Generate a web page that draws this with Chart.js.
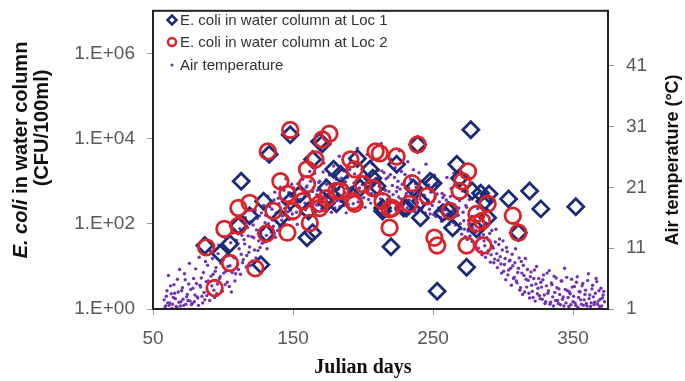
<!DOCTYPE html>
<html>
<head>
<meta charset="utf-8">
<script src="https://cdn.jsdelivr.net/npm/chart.js@4"></script>
<style>
  html, body { margin: 0; padding: 0; background: #fff; }
  #wrap { width: 685px; height: 381px; }
</style>
</head>
<body>
<div id="wrap"><canvas id="myChart" width="685" height="381"></canvas></div>
<script>
// E. coli at Loc 1: [Julian day, CFU/100ml]
const loc1 = [
  [87, 31], [98, 20], [105, 34], [111, 90], [113, 1000], [119, 155], [127, 11],
  [129, 340], [131, 59], [133, 4300], [141, 138], [148, 12300], [148, 340],
  [155, 500], [160, 47], [161, 200], [164, 62], [164, 3240], [169, 8500],
  [171, 7600], [174, 310], [174, 690], [179, 1900], [181, 295], [184, 1450],
  [186, 590], [196, 3400], [198, 690], [205, 1900], [207, 1170], [210, 760],
  [214, 235], [214, 200], [220, 29], [224, 2500], [229, 235], [231, 235],
  [236, 690], [239, 7300], [241, 340], [241, 138], [248, 1000], [250, 900],
  [253, 2.6], [257, 182], [261, 200], [264, 81], [267, 2500], [269, 1170],
  [274, 9.5], [277, 16200], [278, 590], [281, 76], [284, 520], [287, 340],
  [289, 138], [290, 500], [304, 380], [311, 62], [319, 590], [327, 224], [352, 250]
];

// E. coli at Loc 2: [Julian day, CFU/100ml]
const loc2 = [
  [88, 28], [94, 3.1], [101, 76], [105, 12], [111, 235], [111, 90], [119, 310],
  [123, 9], [131, 59], [132, 5000], [136, 200], [141, 1000], [146, 62],
  [146, 500], [148, 16000], [150, 200], [157, 340], [160, 1900], [160, 850],
  [162, 105], [166, 3240], [169, 295], [169, 235], [171, 9500], [174, 400],
  [176, 13000], [181, 590], [184, 590], [191, 3240], [193, 340], [194, 295],
  [194, 1900], [200, 850], [207, 690], [209, 5000], [212, 4500], [214, 340],
  [219, 81], [219, 224], [221, 235], [224, 3800], [233, 295], [235, 900],
  [239, 7300], [246, 450], [251, 47], [253, 31], [262, 200], [269, 590],
  [271, 1000], [274, 31], [275, 1700], [281, 100], [281, 170], [285, 117],
  [286, 31], [289, 295], [307, 155], [311, 62]
];

// Air temperature (deg C), two readings per day starting at day 58
const tempStartDay = 58;
const airTempA = [
  2.5, 1.5, 4, 6.5, 2, 3.5, 1.8, 5, 2.7, 1.3,
  3.8, 7.5, 2.2, 4.5, 1.6, 5.8, 3, 2.4, 8.5, 4.2,
  1.9, 6, 3.3, 5.2, 2.8, 9.5, 4.6, 3.1, 7, 2.5,
  5.5, 8.2, 3.6, 10.5, 4.8, 6.7, 2.9, 7.8, 5.1, 11.5,
  6.3, 4, 9, 12.8, 7.2, 5.4, 10.2, 8.1, 3.8, 13.5,
  9.4, 6.8, 11.6, 7.5, 14.2, 10, 8.6, 12.4, 16, 9.8,
  13, 11.2, 15.4, 8.9, 12.7, 17.2, 14, 10.6, 16.3, 13.4,
  11.8, 18, 15.2, 13.1, 19.5, 16.1, 12.5, 17.4, 14.6, 20.2,
  16.8, 13.9, 18.3, 21, 15.6, 19, 17.5, 22.4, 16.2, 20.1,
  17.2, 21.5, 15.8, 19.6, 18.1, 14.9, 20.8, 18.9, 16.7, 22.3,
  19.4, 17.3, 21.2, 16.1, 23.6, 18.9, 20.3, 17.1, 24.2, 19.8,
  18.1, 22.0, 20.4, 18.6, 25.0, 17.2, 21.5, 19.3, 23.0, 18.2,
  20.9, 24.5, 17.6, 22.3, 19.8, 26.1, 18.7, 21.2, 23.7, 20.1,
  16.8, 22.6, 19.5, 25.3, 21.0, 18.3, 23.2, 20.6, 27.4, 19.2,
  22.1, 17.9, 24.0, 20.4, 21.7, 26.4, 19.0, 22.8, 20.0, 24.8,
  19.7, 22.4, 17.4, 23.8, 21.1, 28.2, 19.9, 23.4, 20.5, 16.7,
  22.7, 19.4, 25.6, 21.3, 18.6, 24.2, 20.3, 22.0, 27.0, 19.1,
  21.5, 18.1, 23.1, 20.0, 25.2, 18.9, 22.3, 19.8, 23.9, 17.0,
  21.0, 18.5, 23.4, 20.6, 17.5, 22.1, 19.6, 24.8, 18.3, 21.4,
  16.6, 20.4, 18.7, 23.0, 16.2, 19.9, 17.6, 21.7, 15.4, 19.3,
  19.7, 17.3, 22.6, 18.5, 15.9, 20.8, 17.1, 23.3, 14.8, 19.2,
  16.4, 18.8, 14.2, 20.4, 15.5, 12.9, 17.7, 13.8, 19, 15,
  12.1, 16.2, 13.5, 10.8, 17.5, 12.6, 14.6, 9.9, 13.2, 11.4,
  15.1, 10.2, 12.3, 8.7, 13.9, 11, 9.2, 14.1, 7.8, 11.6,
  9.6, 6.9, 12.2, 8.3, 5.8, 10.4, 7.4, 9, 4.9, 8.1,
  6.2, 10.9, 5.3, 7.7, 4.1, 8.8, 3.4, 6.5, 9.3, 4.6,
  5.7, 2.8, 7.1, 3.9, 6, 2.3, 8, 4.4, 3.2, 5.4,
  2.6, 6.6, 1.9, 4.8, 3.6, 7.3, 2.1, 5, 1.5, 3.7,
  6.1, 2.4, 4.3, 1.7, 5.6, 3, 7.7, 2, 4, 1.4,
  3.5, 5.9, 2.2, 4.7, 1.6, 6.3, 2.9, 3.8, 1.8, 5.2,
  2.5, 4.1, 1.5, 6.8, 3.3, 2, 4.9, 1.7, 3.6, 5.5,
  2.3, 1.4, 4.4, 2.8, 3.9
];
const airTempB = [
  1.2, 3.1, 2.0, 1.6, 4.8, 1.1, 2.9, 3.6, 1.4, 5.9,
  2.1, 1.5, 4.0, 2.6, 6.8, 1.8, 3.4, 5.1, 2.3, 1.7,
  4.4, 2.2, 7.6, 3.0, 1.6, 4.9, 6.1, 2.0, 3.7, 8.8,
  3.2, 5.6, 2.4, 6.4, 9.3, 4.1, 7.2, 3.5, 10.1, 6.0,
  8.5, 3.9, 6.9, 5.0, 10.8, 8.0, 4.7, 11.9, 7.0, 9.6,
  5.6, 12.3, 8.4, 10.9, 6.7, 13.1, 9.1, 11.7, 7.9, 14.4,
  10.3, 8.1, 12.9, 14.8, 10.7, 9.4, 15.9, 12.2, 11.1, 16.8,
  14.1, 12.0, 16.4, 10.9, 15.0, 17.8, 13.6, 15.6, 18.9, 12.8,
  15.3, 19.2, 14.4, 17.1, 16.3, 20.5, 14.9, 18.2, 17.0, 15.7,
  19.5, 16.6, 20.9, 18.0, 16.9, 21.6, 17.8, 19.0, 22.9, 17.5,
  18.4, 21.0, 16.3, 19.7, 22.0, 17.9, 20.9, 23.3, 18.1, 20.5,
  21.8, 19.0, 17.5, 23.5, 20.1, 22.2, 18.5, 19.9, 21.4, 16.9,
  19.3, 21.6, 23.0, 18.8, 20.7, 17.8, 22.5, 19.6, 18.0, 21.9,
  20.8, 18.2, 23.9, 19.4, 17.3, 21.7, 19.9, 24.6, 18.6, 20.9,
  18.8, 21.4, 19.3, 17.7, 23.0, 20.2, 22.1, 18.4, 25.5, 19.6,
  22.3, 20.0, 18.0, 21.2, 19.1, 23.7, 17.8, 20.6, 22.4, 19.0,
  20.3, 23.1, 18.5, 19.8, 22.6, 17.3, 21.0, 19.4, 20.7, 23.6,
  18.7, 21.9, 19.6, 17.6, 20.9, 22.8, 18.1, 20.2, 19.2, 21.6,
  19.0, 17.2, 20.4, 22.0, 18.4, 19.7, 16.8, 20.9, 18.9, 17.4,
  20.2, 18.0, 16.5, 19.4, 21.3, 17.1, 18.6, 16.0, 20.0, 17.3,
  15.8, 18.9, 16.6, 14.9, 19.5, 17.0, 15.2, 18.1, 16.3, 13.8,
  17.6, 15.0, 13.3, 16.9, 14.1, 18.0, 12.4, 15.6, 13.0, 16.2,
  14.3, 11.5, 13.9, 15.3, 11.0, 12.9, 10.4, 14.0, 12.2, 9.5,
  12.7, 10.6, 13.4, 9.9, 11.3, 8.6, 12.0, 10.1, 9.0, 12.5,
  8.4, 10.7, 7.2, 9.3, 11.1, 6.6, 8.9, 7.7, 10.0, 6.0,
  8.6, 5.6, 7.0, 9.4, 4.5, 6.9, 8.2, 3.8, 5.9, 7.5,
  3.6, 6.3, 4.9, 2.9, 7.4, 5.1, 3.5, 6.0, 2.7, 4.6,
  5.8, 3.3, 2.2, 6.9, 4.0, 1.8, 5.3, 3.0, 6.4, 2.4,
  4.5, 1.9, 3.4, 5.6, 2.6, 1.5, 4.2, 6.2, 2.9, 3.8,
  1.7, 4.6, 3.1, 2.0, 5.4, 1.3, 3.9, 2.5, 4.8, 1.6,
  3.4, 1.9, 5.7, 2.7, 1.4, 4.3, 3.0, 2.1, 6.0, 1.8,
  4.0, 2.6, 1.5, 3.3, 2.2
];

const xTicks = [50, 150, 250, 350];
const ecoliTicks = [1, 1e2, 1e4, 1e6];
const tempTicks = [1, 11, 21, 31, 41];

const legendLabels = [
  "E. coli in water column at Loc 1",
  "E. coli in water column at Loc 2",
  "Air temperature"
];

const navy = "#1c2b78";
const red = "#d8242a";
const purple = "#7232b4";
const tickFont = { family: "'Liberation Sans', Arial, sans-serif", size: 19 };
const tickColor = "#595959";

// air temperature points from both daily readings
const tempPoints = [];
airTempA.forEach((t, i) => tempPoints.push({ x: tempStartDay + i, y: t }));
airTempB.forEach((t, i) => tempPoints.push({ x: tempStartDay + i + 0.5, y: t }));

const noPad = (s) => { s.paddingTop = 0; s.paddingBottom = 0; s.paddingLeft = 0; s.paddingRight = 0; };

const overlay = {
  id: "overlay",
  afterDraw(chart) {
    const c = chart.ctx;
    const a = chart.chartArea;
    c.save();
    // frame
    c.strokeStyle = "#222";
    c.lineWidth = 2;
    c.strokeRect(a.left, a.top, a.right - a.left, a.bottom - a.top);

    // legend
    c.font = "15px 'Liberation Sans', Arial, sans-serif";
    c.fillStyle = "#333";
    c.textBaseline = "middle";
    const ly = [20, 42, 65];
    legendLabels.forEach((t, i) => {
      const mx = a.left + 19, my = ly[i];
      c.lineWidth = 2.5;
      if (i === 0) {
        c.strokeStyle = navy;
        c.beginPath();
        c.moveTo(mx, my - 4.5); c.lineTo(mx + 4.5, my); c.lineTo(mx, my + 4.5); c.lineTo(mx - 4.5, my);
        c.closePath(); c.stroke();
      } else if (i === 1) {
        c.strokeStyle = red;
        c.beginPath(); c.arc(mx, my, 4, 0, Math.PI * 2); c.stroke();
      } else {
        c.fillStyle = purple;
        c.beginPath(); c.arc(mx, my, 1.6, 0, Math.PI * 2); c.fill();
        c.fillStyle = "#333";
      }
      c.fillText(t, mx + 8, my + 1);
    });

    // x title
    c.fillStyle = "#111";
    c.textAlign = "center";
    c.font = "bold 20px 'Liberation Serif', 'Times New Roman', serif";
    c.fillText("Julian days", 363, 368);

    // left title (two lines, rotated)
    c.save();
    c.translate(21, 150);
    c.rotate(-Math.PI / 2);
    const fi = "italic bold 20px 'Liberation Sans', Arial, sans-serif";
    const fb = "bold 20px 'Liberation Sans', Arial, sans-serif";
    c.font = fi; const w1 = c.measureText("E. coli").width;
    c.font = fb; const w2 = c.measureText(" in water column").width;
    c.textAlign = "left";
    c.font = fi; c.fillText("E. coli", -(w1 + w2) / 2, 0);
    c.font = fb; c.fillText(" in water column", -(w1 + w2) / 2 + w1, 0);
    c.restore();
    c.save();
    c.translate(42, 128);
    c.rotate(-Math.PI / 2);
    c.font = "bold 20px 'Liberation Sans', Arial, sans-serif";
    c.fillText("(CFU/100ml)", 0, 0);
    c.restore();

    // right title
    c.save();
    c.translate(673, 160);
    c.rotate(-Math.PI / 2);
    c.font = "bold 18px 'Liberation Sans', Arial, sans-serif";
    c.fillText("Air temperature (\u00B0C)", 0, 0);
    c.restore();

    c.restore();
  }
};

const ctx1 = document.getElementById("myChart").getContext("2d");

const myChart = new Chart(ctx1, {
  type: "scatter",
  data: {
    datasets: [
      {
        label: legendLabels[0],
        data: loc1.map(p => ({ x: p[0], y: p[1] })),
        yAxisID: "y",
        pointStyle: "rectRot",
        pointRadius: 8,
        borderColor: navy,
        backgroundColor: "rgba(0,0,0,0)",
        borderWidth: 2.8,
        order: 2,
      },
      {
        label: legendLabels[1],
        data: loc2.map(p => ({ x: p[0], y: p[1] })),
        yAxisID: "y",
        pointStyle: "circle",
        pointRadius: 7.8,
        borderColor: red,
        backgroundColor: "rgba(0,0,0,0)",
        borderWidth: 2.8,
        order: 1,
      },
      {
        label: legendLabels[2],
        data: tempPoints,
        yAxisID: "y2",
        pointStyle: "circle",
        pointRadius: 1.7,
        borderWidth: 0,
        backgroundColor: purple,
        order: 3,
      },
    ],
  },
  options: {
    responsive: false,
    animation: false,
    layout: { padding: { top: 10, left: 0, right: 0, bottom: 0 } },
    plugins: {
      legend: { display: false },
      tooltip: { enabled: false },
    },
    scales: {
      x: {
        type: "linear",
        min: 50,
        max: 375,
        afterBuildTicks: (s) => { s.ticks = xTicks.map(v => ({ value: v })); },
        afterFit: (s) => { s.height = 72; noPad(s); },
        ticks: { font: tickFont, color: tickColor, padding: 12, autoSkip: false, maxRotation: 0 },
        grid: { drawOnChartArea: false, tickLength: 6, color: "#999" },
        border: { display: false },
      },
      y: {
        type: "logarithmic",
        position: "left",
        min: 1,
        max: 1e7,
        afterBuildTicks: (s) => { s.ticks = ecoliTicks.map(v => ({ value: v })); },
        afterFit: (s) => { s.width = 153; noPad(s); },
        ticks: {
          font: tickFont,
          color: tickColor,
          padding: 12,
          autoSkip: false,
          callback: (v) => "1.E+" + String(Math.round(Math.log10(v))).padStart(2, "0"),
        },
        grid: { drawOnChartArea: false, tickLength: 6, color: "#999" },
        border: { display: false },
      },
      y2: {
        type: "linear",
        position: "right",
        min: 1,
        max: 50,
        afterBuildTicks: (s) => { s.ticks = tempTicks.map(v => ({ value: v })); },
        afterFit: (s) => { s.width = 77; noPad(s); },
        ticks: { font: tickFont, color: tickColor, padding: 12, autoSkip: false },
        grid: { drawOnChartArea: false, tickLength: 6, color: "#999" },
        border: { display: false },
      },
    },
  },
  plugins: [overlay],
});
</script>
</body>
</html>
